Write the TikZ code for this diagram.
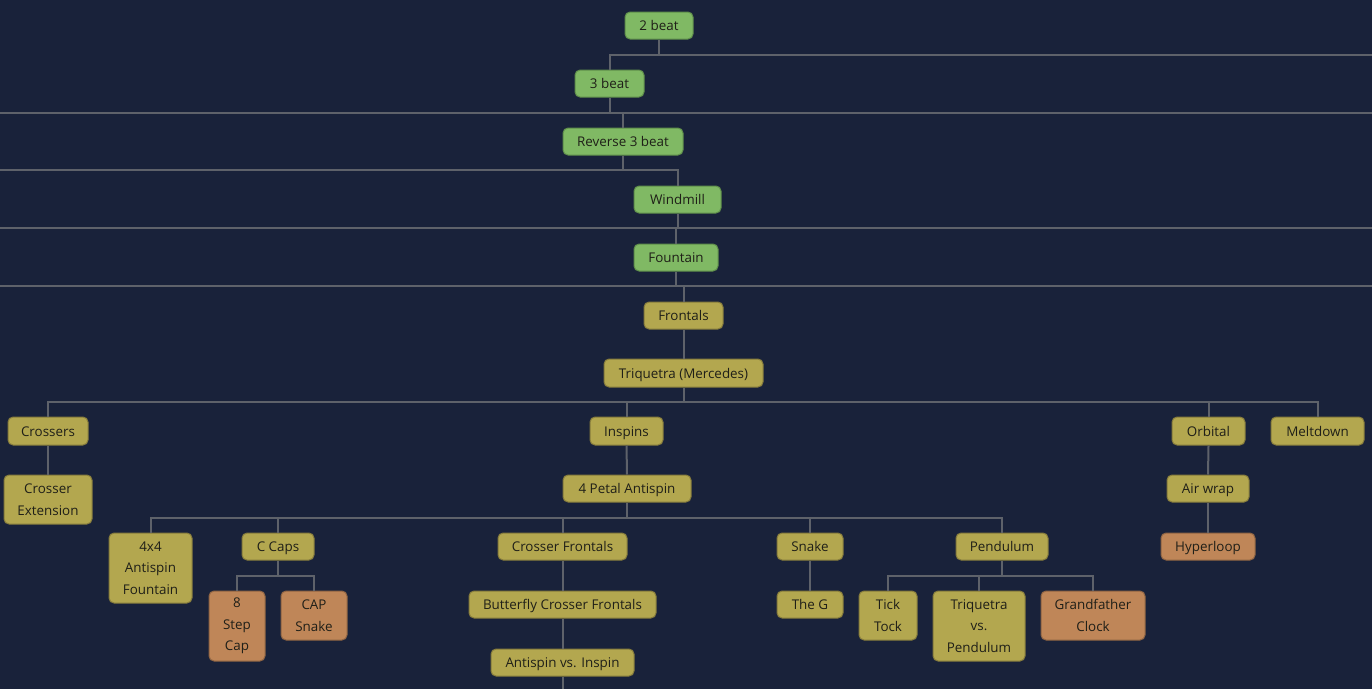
\documentclass[tikz,border=0pt]{standalone}
\usepackage{fontspec}
\setmainfont{Open Sans}
\begin{document}
\begin{tikzpicture}[x=1pt,y=-1pt,
  base/.style={draw, line width=1pt, rounded corners=5pt, inner sep=0pt,
    text=txt, font=\fontsize{13.4}{21.5}\selectfont},
  bx/.style={base, text height=11.2pt, text depth=1pt},
  mbx/.style={base, align=center},
  gbox/.style={bx, fill=gfill, draw=gline},
  obox/.style={bx, fill=ofill, draw=oline},
  rbox/.style={bx, fill=rfill, draw=rline},
  mobox/.style={mbx, fill=ofill, draw=oline},
  mrbox/.style={mbx, fill=rfill, draw=rline},
  conn/.style={draw=link, line width=2pt}]
\definecolor{bg}{HTML}{19223A}
\definecolor{gfill}{HTML}{80B964}
\definecolor{gline}{HTML}{5F8E4B}
\definecolor{ofill}{HTML}{B3A74F}
\definecolor{oline}{HTML}{857B3C}
\definecolor{rfill}{HTML}{BF8658}
\definecolor{rline}{HTML}{8E6443}
\definecolor{link}{HTML}{5E626A}
\definecolor{txt}{HTML}{1F1F18}
\fill[bg] (0,0) rectangle (1372,689);
\useasboundingbox (0,0) rectangle (1372,689);

% edge coordinates
\coordinate (r55) at (1372,55);
\coordinate (l113) at (0,113);
\coordinate (r113) at (1372,113);
\coordinate (l170) at (0,170);
\coordinate (l228) at (0,228);
\coordinate (r228) at (1372,228);
\coordinate (l286) at (0,286);
\coordinate (r286) at (1372,286);
\coordinate (e402) at (0,402);
\coordinate (e518) at (0,518);
\coordinate (e576) at (0,576);
\coordinate (bot) at (562.5,689);

% nodes
\node[gbox, minimum width=68pt, minimum height=27pt] (twobeat) at (659,25.5) {2 beat};
\node[gbox, minimum width=69pt, minimum height=27pt] (threebeat) at (609.5,83.5) {3 beat};
\node[gbox, minimum width=120pt, minimum height=27pt] (rev) at (623,141.5) {Reverse 3 beat};
\node[gbox, minimum width=87pt, minimum height=27pt] (windmill) at (677.5,199.5) {Windmill};
\node[gbox, minimum width=84pt, minimum height=27pt] (fountain) at (676,257.5) {Fountain};
\node[obox, minimum width=79pt, minimum height=27pt] (frontals) at (683.5,315.5) {Frontals};
\node[obox, minimum width=159pt, minimum height=28pt] (triq) at (683.5,373) {Triquetra (Mercedes)};
\node[obox, minimum width=80pt, minimum height=28pt] (crossers) at (48,431) {Crossers};
\node[mobox, minimum width=88pt, minimum height=49pt] (crossext) at (48,499.5) {Crosser\\Extension};
\node[obox, minimum width=73pt, minimum height=28pt] (inspins) at (626.5,431) {Inspins};
\node[obox, minimum width=128pt, minimum height=27pt] (petal) at (627,488.5) {4 Petal Antispin};
\node[obox, minimum width=73pt, minimum height=28pt] (orbital) at (1208.5,431) {Orbital};
\node[obox, minimum width=93pt, minimum height=28pt] (meltdown) at (1317.5,431) {Meltdown};
\node[obox, minimum width=82pt, minimum height=27pt] (airwrap) at (1208,488.5) {Air wrap};
\node[rbox, minimum width=94pt, minimum height=27pt] (hyperloop) at (1208,546.5) {Hyperloop};
\node[mobox, minimum width=83pt, minimum height=70pt] (fourx) at (150.5,568) {4x4\\Antispin\\Fountain};
\node[obox, minimum width=72pt, minimum height=27pt] (ccaps) at (278,546.5) {C Caps};
\node[mrbox, minimum width=56pt, minimum height=70pt] (step8) at (237,626) {8\\Step\\Cap};
\node[mrbox, minimum width=66pt, minimum height=49pt] (capsnake) at (314,615.5) {CAP\\Snake};
\node[obox, minimum width=129pt, minimum height=27pt] (crossfront) at (562.5,546.5) {Crosser Frontals};
\node[obox, minimum width=187pt, minimum height=27pt] (butterfly) at (562.5,604.5) {Butterfly Crosser Frontals};
\node[obox, minimum width=143pt, minimum height=27pt] (antivs) at (562.5,662.5) {Antispin vs. Inspin};
\node[obox, minimum width=66pt, minimum height=27pt] (snake) at (810,546.5) {Snake};
\node[obox, minimum width=66pt, minimum height=27pt] (theg) at (810,604.5) {The G};
\node[obox, minimum width=92pt, minimum height=27pt] (pendulum) at (1002,546.5) {Pendulum};
\node[mobox, minimum width=58pt, minimum height=49pt] (ticktock) at (888,615.5) {Tick\\Tock};
\node[mobox, minimum width=92pt, minimum height=70pt] (triqvs) at (979,626) {Triquetra\\vs.\\Pendulum};
\node[mrbox, minimum width=104pt, minimum height=49pt] (grand) at (1093,615.5) {Grandfather\\Clock};

% connectors
\path[conn] (twobeat.south) |- (r55);
\path[conn] (twobeat.south) |- (threebeat.north |- r55) -- (threebeat.north);
\path[conn] (threebeat.south) |- (l113);
\path[conn] (threebeat.south) |- (r113);
\path[conn] (threebeat.south) |- (rev.north |- r113) -- (rev.north);
\path[conn] (rev.south) |- (l170);
\path[conn] (rev.south) |- (windmill.north |- l170) -- (windmill.north);
\path[conn] (windmill.south) |- (l228);
\path[conn] (windmill.south) |- (r228);
\path[conn] (windmill.south) |- (fountain.north |- l228) -- (fountain.north);
\path[conn] (fountain.south) |- (l286);
\path[conn] (fountain.south) |- (r286);
\path[conn] (fountain.south) |- (frontals.north |- l286) -- (frontals.north);
\path[conn] (frontals.south) -- (triq.north);
\path[conn] (triq.south) |- (crossers.north |- e402) -- (crossers.north);
\path[conn] (triq.south) |- (inspins.north |- e402) -- (inspins.north);
\path[conn] (triq.south) |- (orbital.north |- e402) -- (orbital.north);
\path[conn] (triq.south) |- (meltdown.north |- e402) -- (meltdown.north);
\path[conn] (crossers.south) -- (crossext.north);
\path[conn] (inspins.south) -- (petal.north);
\path[conn] (orbital.south) -- (airwrap.north);
\path[conn] (airwrap.south) -- (hyperloop.north);
\path[conn] (petal.south) |- (fourx.north |- e518) -- (fourx.north);
\path[conn] (petal.south) |- (ccaps.north |- e518) -- (ccaps.north);
\path[conn] (petal.south) |- (crossfront.north |- e518) -- (crossfront.north);
\path[conn] (petal.south) |- (snake.north |- e518) -- (snake.north);
\path[conn] (petal.south) |- (pendulum.north |- e518) -- (pendulum.north);
\path[conn] (ccaps.south) |- (step8.north |- e576) -- (step8.north);
\path[conn] (ccaps.south) |- (capsnake.north |- e576) -- (capsnake.north);
\path[conn] (crossfront.south) -- (butterfly.north);
\path[conn] (butterfly.south) -- (antivs.north);
\path[conn] (antivs.south) -- (bot);
\path[conn] (snake.south) -- (theg.north);
\path[conn] (pendulum.south) |- (ticktock.north |- e576) -- (ticktock.north);
\path[conn] (pendulum.south) |- (triqvs.north |- e576) -- (triqvs.north);
\path[conn] (pendulum.south) |- (grand.north |- e576) -- (grand.north);
\end{tikzpicture}
\end{document}
